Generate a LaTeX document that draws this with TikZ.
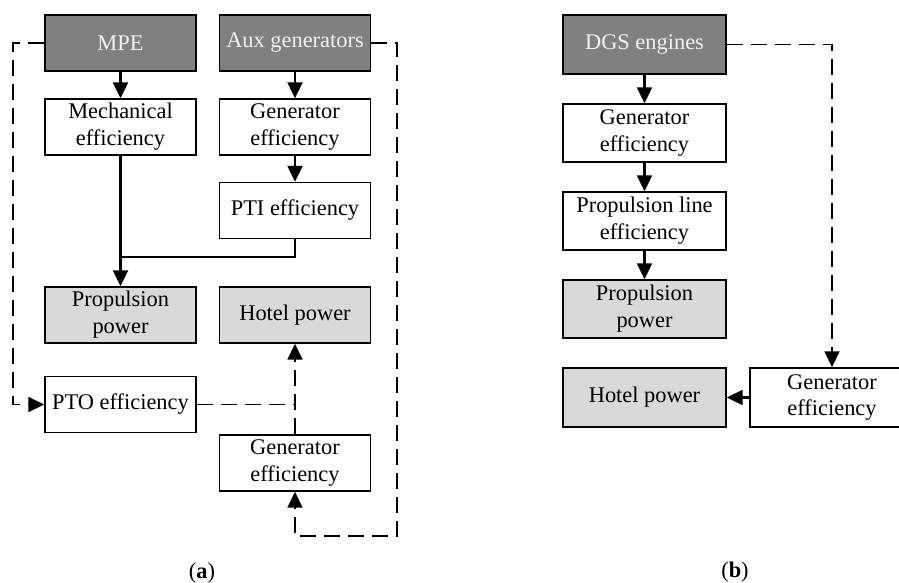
\documentclass[tikz,border=0pt]{standalone}
\usepackage{fontspec}
\setmainfont{Liberation Serif}
\usetikzlibrary{arrows.meta}
\definecolor{srcgray}{HTML}{808080}
\definecolor{loadgray}{HTML}{D9D9D9}
\definecolor{srctext}{HTML}{F2F2F2}
\begin{document}
\begin{tikzpicture}[x=0.5pt,y=-0.5pt,
    box/.style={draw=black, line width=0.7pt, align=center, inner sep=0pt,
      minimum width=75.5pt, minimum height=28pt, font=\fontsize{11.2}{13.4}\selectfont},
    srcbox/.style={box, fill=srcgray, text=srctext},
    loadbox/.style={box, fill=loadgray},
    tip/.style={-{Triangle[length=8pt,width=7.5pt]}},
    flow/.style={line width=1.1pt, tip},
    link/.style={line width=1.1pt},
    aux/.style={line width=0.9pt, dash pattern=on 8pt off 4pt}]
    \useasboundingbox (0,0) rectangle (899,583);
    % (a) main propulsion engine configuration
    \node[srcbox] (mpe) at (120.5,43) {MPE};
    \node[srcbox] (auxg) at (295,43) {Aux generators};
    \node[box] (mech) at (120.5,127) {Mechanical\\efficiency};
    \node[box] (gena) at (295,127) {Generator\\efficiency};
    \node[box] (pti) at (295,210.5) {PTI efficiency};
    \node[loadbox] (propa) at (120.5,315) {Propulsion\\power};
    \node[loadbox] (hotela) at (295,315) {Hotel power};
    \node[box] (pto) at (120.5,404.5) {PTO efficiency};
    \node[box] (genpto) at (295,463) {Generator\\efficiency};
    \coordinate (jn) at (120.5,257);
    \coordinate (lft) at (13,43);
    \coordinate (lfb) at (13,404.5);
    \coordinate (rgt) at (397,43);
    \coordinate (rgb) at (397,536);
    \coordinate (rgm) at (295,536);
    \draw[flow] (mpe) -- (mech);
    \draw[flow] (auxg) -- (gena);
    \draw[flow] (gena) -- (pti);
    \draw[flow] (mech) -- (propa);
    \draw[link] (pti.south) |- (jn);
    \draw[aux, tip] (mpe.west) -- (lft) -- (lfb) -- (pto.west);
    \draw[aux] (pto.east) -- (pto.east -| hotela.south);
    \draw[aux, tip] (genpto.north) -- (hotela.south);
    \draw[aux, tip] (auxg.east) -- (rgt) -- (rgb) -- (rgm) -- (genpto.south);
    \node[font=\fontsize{11.2}{13.4}\selectfont] (capa) at (202,573) {(\textbf{a})};
    % (b) diesel generator set configuration
    \node[srcbox, minimum width=81.5pt, minimum height=29.5pt] (dgs) at (644.5,44.5) {DGS engines};
    \node[box, minimum width=81.5pt, minimum height=29pt] (genb) at (644.5,133) {Generator\\efficiency};
    \node[box, minimum width=81.5pt, minimum height=29pt] (pline) at (644.5,221) {Propulsion line\\efficiency};
    \node[loadbox, minimum width=81.5pt, minimum height=29pt] (propb) at (644.5,309) {Propulsion\\power};
    \node[loadbox, minimum width=81.5pt, minimum height=29.5pt] (hotelb) at (644.5,397.5) {Hotel power};
    \node[box, minimum width=82pt, minimum height=29.5pt] (genhot) at (832,397.5) {Generator\\efficiency};
    \draw[flow] (dgs) -- (genb);
    \draw[flow] (genb) -- (pline);
    \draw[flow] (pline) -- (propb);
    \draw[flow] (genhot) -- (hotelb);
    \draw[aux, tip] (dgs.east) -| (genhot.north);
    \node[font=\fontsize{11.2}{13.4}\selectfont] (capb) at (735,572) {(\textbf{b})};
\end{tikzpicture}
\end{document}
